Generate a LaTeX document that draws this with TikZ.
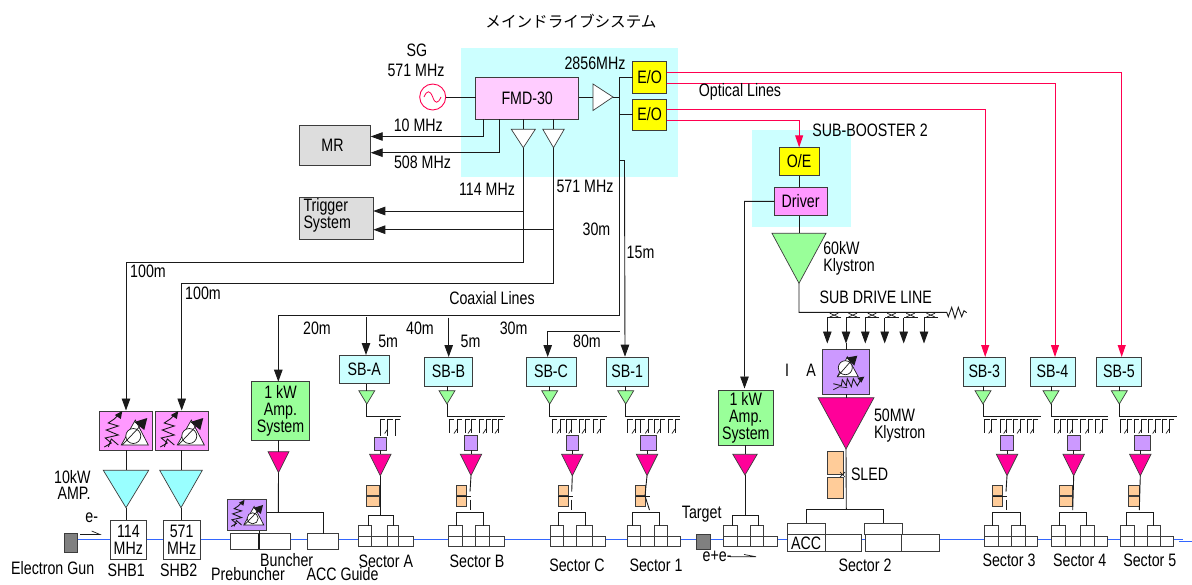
\documentclass[tikz,border=0pt]{standalone}
\usepackage{fontspec}
\setmainfont[FakeStretch=0.79]{Liberation Sans}
\newfontfamily\jpfont{Noto Sans CJK JP}
\usetikzlibrary{arrows.meta,calc}
\definecolor{ln}{HTML}{1A1A1A}
\definecolor{bgcy}{HTML}{CCFFFF}
\definecolor{fmdp}{HTML}{FFCCFF}
\definecolor{pk}{HTML}{FF99FF}
\definecolor{pu}{HTML}{CC99FF}
\definecolor{gn}{HTML}{99FF99}
\definecolor{cy}{HTML}{99FFFF}
\definecolor{mg}{HTML}{FF0099}
\definecolor{og}{HTML}{FFCC99}
\definecolor{gy}{HTML}{DDDDDD}
\definecolor{ye}{HTML}{FFFF00}
\definecolor{redline}{HTML}{FF0050}
\definecolor{beamblue}{HTML}{3366FF}
\definecolor{ggun}{HTML}{808080}
\tikzset{
  lnn/.style={draw=ln,line width=.9pt},
  thn/.style={draw=ln,line width=.7pt},
  arw/.style={lnn,-{Triangle[length=12pt,width=8.5pt]}},
  redl/.style={draw=redline,line width=1pt},
  redarw/.style={redl,-{Triangle[length=12pt,width=8pt]}},
  bxs/.style={draw=ln!85,line width=.9pt,inner sep=0pt,outer sep=0pt,align=center,
     font=\fontsize{18}{17}\selectfont},
  sbb/.style={bxs,fill=bgcy},
  pkb/.style={bxs,fill=pk},
  pub/.style={bxs,fill=pu},
  gnb/.style={bxs,fill=gn},
  yeb/.style={bxs,fill=ye},
  gyb/.style={bxs,fill=gy},
  ogb/.style={bxs,fill=og},
  acc/.style={bxs,fill=white},
  gunb/.style={bxs,fill=ggun},
  tg/.style={fill=gn,draw=ln!85,line width=.7pt},
  tm/.style={fill=mg,draw=ln!85,line width=.7pt},
  tc/.style={fill=cy,draw=ln!85,line width=.7pt},
  tw/.style={fill=white,draw=ln!85,line width=.7pt},
  lab/.style={inner sep=0pt,outer sep=0pt,align=center,font=\fontsize{18}{16.5}\selectfont},
  labl/.style={lab,anchor=west,align=left},
}
\newcommand{\bx}[7]{%
  \pgfmathsetmacro\wa{#4-#2}\pgfmathsetmacro\ha{#5-#3}%
  \node[#6,minimum width=\wa pt,minimum height=\ha pt] (#1) at ({(#2+#4)/2},{(#3+#5)/2}) {#7};}
\newcommand{\tri}[6]{%
  \draw[#6] ({#2-#4},#3) -- ({#2+#4},#3) -- (#2,#5) -- cycle;
  \coordinate (#1-t) at (#2,#3); \coordinate (#1-b) at (#2,#5);}
\newcommand{\sector}[9]{%
  \bx{#1-a}{#2}{525.7}{#3}{536.7}{acc}{}
  \bx{#1-b}{#4}{525.7}{#5}{536.7}{acc}{}
  \bx{#1-c}{#2}{536.7}{#3}{546.3}{acc}{}
  \bx{#1-d}{#3}{536.7}{#4}{546.3}{acc}{}
  \bx{#1-e}{#4}{536.7}{#5}{546.3}{acc}{}
  \bx{#1-f}{#5}{536.7}{#6}{546.3}{acc}{}
  \coordinate (#1-l) at (#7,#9); \coordinate (#1-r) at (#8,#9);
  \draw[lnn] (#1-a.north -| #1-l) -- (#1-l) -- (#1-r) -- (#1-b.north -| #1-r);}
\newcommand{\teeth}[2][433]{%
  \foreach \t [count=\c] in {#2} {%
    \draw[thn] ({\t+5},419.6) -- (\t,419.6) -- (\t,#1);
    \ifodd\c\relax\else \draw[thn] (\t,429) -- ({\t-3},433.5);\fi}}
\newcommand{\sled}[3]{% name x1 x2
  \bx{#1-u}{#2}{485.7}{#3}{495.7}{ogb}{}
  \bx{#1-v}{#2}{496.7}{#3}{506.7}{ogb}{}}
\newcommand{\icon}[4]{% name x y scale
  \begin{scope}[shift={(#2,#3)},scale=#4]
    \draw[ln,line width=.9pt] (5,36) -- (12,32) -- (6,27) -- (19,24) -- (7,19) -- (19,15) -- (9,12) -- (15,8) -- (21,2);
    \fill[ln] (23,0) -- (21.5,8) -- (15.5,4) -- cycle;
    \draw[ln,line width=.9pt] (9,36) -- (12,28) -- (19,34);
    \draw[ln,line width=.7pt,fill=white] (22,34) -- (49,34) -- (36,9) -- cycle;
    \draw[ln,line width=.7pt,fill=white] (34,25) circle (7.5);
    \draw[ln,line width=.7pt] (23,34) -- (41,15);
    \fill[ln] (48,7) -- (45,19) -- (35,11) -- cycle;
    \coordinate (#1) at (26,19);
  \end{scope}}
\begin{document}
\begin{tikzpicture}[x=1pt,y=-1pt]
\path[fill=white,use as bounding box] (0,0) rectangle (1192,584);
% background panels
\fill[bgcy] (461,48) rectangle (678,177);
\fill[bgcy] (752,130) rectangle (851,227);
% beam
\coordinate (beamA) at (77,539); \coordinate (beamB) at (1182.7,539);
\coordinate (beamC) at (1179,541.7); \coordinate (beamD) at (1192,541.7);
\draw[beamblue,line width=1pt] (beamA) -- (beamB);
\draw[beamblue,line width=1pt] (beamC) -- (beamD);
% top boxes
\bx{fmd}{475.7}{77.7}{578.7}{119.3}{bxs,fill=fmdp}{FMD-30}
\bx{eoa}{632.7}{61.7}{666.7}{93}{yeb}{E/O}
\bx{eob}{632.7}{99}{666.7}{130}{yeb}{E/O}
\bx{mr}{299.3}{125.7}{370.7}{165}{gyb}{MR\hspace{5pt}}
\bx{trig}{299.3}{197.3}{373.3}{239.3}{gyb}{}
\node[lab,align=left,anchor=west,font=\fontsize{18}{15.5}\selectfont] (trigt) at (303.5,215.5) {Trigger\\System};
\bx{oe}{779.3}{147.3}{819}{175.7}{yeb}{O/E}
\bx{drv}{774.3}{187}{827}{215.7}{pkb}{Driver}
\node[draw=redline,line width=.9pt,circle,minimum size=26pt,inner sep=0pt,outer sep=0pt,fill=white] (sg) at (432.7,97) {};
\draw[redline,line width=.8pt] (424,97) .. controls (427,90) and (430,90) .. (432.7,97) .. controls (435,104) and (438,104) .. (441,97);
% top triangles
\coordinate (ampL) at (593,97); \coordinate (ampR) at (613,97);
\draw[tw] (593,84) -- (613,97) -- (593,110.5) -- cycle;
\tri{ta}{523.3}{129.3}{12}{147.7}{tw}
\tri{tb}{553.5}{129.3}{10.7}{147.7}{tw}
\tri{kly}{799}{233.3}{27}{283.3}{tg}
% top connectors
\draw[lnn] (sg.east) -- (fmd.west |- sg.east);
\draw[lnn] (fmd.east |- ampL) -- (ampL);
\coordinate (jMain) at (619.5,315); \coordinate (jAmp1) at (278.3,315);
\coordinate (jC) at (619.5,331); \coordinate (j160) at (619.5,160); \coordinate (jTop) at (619.5,97);
\draw[lnn] (ampR) -- (jTop);
\draw[lnn] (eoa.west) -| (jMain) -- (jAmp1);
\draw[lnn] (eob.west) -- (eob.west -| jMain);
\coordinate (f10) at (483.5,119.3); \coordinate (mr10) at (370.7,136.5);
\coordinate (f508) at (499.7,119.3); \coordinate (mr508) at (370.7,152.7);
\draw[arw] (f10) |- (mr10);
\draw[arw] (f508) |- (mr508);
\draw[lnn] (ta-t |- fmd.south) -- (ta-t);
\draw[lnn] (tb-t |- fmd.south) -- (tb-t);
\coordinate (c100a) at (126,262); \coordinate (c100b) at (181.7,283);
\coordinate (trA) at (523.3,211); \coordinate (trB) at (553.5,229.7);
\coordinate (trAe) at (373.3,211); \coordinate (trBe) at (373.3,229.7);
\draw[lnn] (ta-b) |- (c100a);
\draw[lnn] (tb-b) |- (c100b);
\draw[arw] (trA) -- (trAe);
\draw[arw] (trB) -- (trBe);
% red optical lines
\coordinate (ra) at (666.7,72); \coordinate (rb) at (666.7,83); \coordinate (rc) at (666.7,109.2); \coordinate (rdd) at (666.7,120);
\coordinate (ra2) at (1121.7,357); \coordinate (rb2) at (1055,357); \coordinate (rc2) at (985.2,357);
\draw[redarw] (ra) -| (ra2);
\draw[redarw] (rb) -| (rb2);
\draw[redarw] (rc) -| (rc2);
\draw[redarw] (rdd) -| (oe.north);
\draw[lnn] (oe.south) -- (drv.north -| oe.south);
\draw[lnn] (drv.south -| kly-t) -- (kly-t);
% sub drive line
\coordinate (sdEnd) at (946.7,312.3);
\draw[lnn] (kly-b) |- (sdEnd) -- (948.3,316.7) -- (951.7,307.3) -- (955,318.3) -- (958.3,307.3) -- (961.7,316.7) -- (964,310.7) -- (966.7,312.7);
\foreach \xx in {827.3,846,865.3,884.7,903.7,924}{%
  \draw[thn] ({\xx+2.5},313.2) -- ({\xx+11},317) ({\xx+2.5},317) -- ({\xx+11},313.2);
  \draw[thn] ({\xx+14},317.5) -- (\xx,317.5);
  \draw[arw] (\xx,317.5) -- (\xx,343.5);
}
% SHB chain
\bx{pk1}{99.3}{411}{152.3}{450.3}{pkb}{}
\bx{pk2}{155.3}{411}{208.3}{450.3}{pkb}{}
\icon{ic1}{99.3}{411}{1}
\icon{ic2}{155.3}{411}{1}
\tri{ca}{126}{470.3}{22.7}{507.7}{tc}
\tri{cb}{181}{470.3}{21.3}{507.7}{tc}
\bx{shba}{110}{520.3}{146.7}{559.7}{acc}{114\\MHz}
\bx{shbb}{163.3}{520.3}{200}{559.7}{acc}{571\\MHz}
\bx{gun}{64.3}{533.3}{77.7}{552}{gunb}{}
\coordinate (pka) at (126,410.5); \coordinate (pkb) at (181.7,410.5);
\draw[arw] (c100a) -- (pka);
\draw[arw] (c100b) -- (pkb);
\draw[lnn] (ca-t |- pk1.south) -- (ca-t);
\draw[lnn] (cb-t |- pk2.south) -- (cb-t);
\draw[lnn] (ca-b) -- (ca-b |- shba.north);
\draw[lnn] (cb-b) -- (cb-b |- shbb.north);
\coordinate (ega) at (80,534.5); \coordinate (egb) at (100,534.5); \coordinate (egc) at (91.7,531);
\draw[thn] (ega) -- (egb) -- (egc);
% 1 kW buncher amp
\bx{ampa}{251.7}{381.7}{309.3}{440}{gnb}{1 kW\\Amp.\\System}
\tri{mb}{278.5}{451.7}{10.5}{472.7}{tm}
\coordinate (ampaT) at (278.3,381.7);
\draw[arw] (jAmp1) -- (ampaT);
\draw[lnn] (mb-t |- ampa.south) -- (mb-t);
\bx{prebox}{227.5}{499.3}{266.7}{530.7}{pub}{}
\icon{ic3}{227.5}{499.8}{.74}
\bx{pre}{230}{533.7}{259}{549.3}{acc}{}
\bx{bun}{259}{533.7}{290.7}{549.3}{acc}{}
\bx{accg}{307.3}{533.7}{338.7}{549.3}{acc}{}
\coordinate (bunJ) at (278.3,512.7);
\draw[lnn] (mb-b) -- (bunJ);
\draw[lnn] (prebox.east) ++(0,-2.3) coordinate (pbE) -- (bunJ) -| (accg.north);
\draw[line width=1.2pt,ln] (pre.north east) -- (pre.south east);
\draw[lnn] (259,530.7) -- (259,533.7);
% Generic stations
\coordinate (tapA) at (366,317); \coordinate (tapAe) at (366,355);
\coordinate (tapB) at (448.7,317.5); \coordinate (tapBe) at (448.7,357);
\coordinate (tapCe) at (547.7,357); \coordinate (tap1e) at (625,356.7); \coordinate (tap1j) at (624.5,160);
\draw[arw] (tapA) -- (tapAe);
\draw[arw] (tapB) -- (tapBe);
\draw[arw] (jC) -| (tapCe);
\draw[lnn] (j160) -- (tap1j);
\draw[arw] (tap1j) -- (tap1e);
\newcommand{\station}[9]{% name sbx1 sbx2 text gcx hx2 px1 px2 mcx
  \bx{sb#1}{#2}{\sbT}{#3}{\sbB}{sbb}{#4}
  \tri{g#1}{#5}{390.7}{8}{404}{tg}
  \coordinate (h#1) at (#6,416.7);
  \draw[lnn] (g#1-t |- sb#1.south) -- (g#1-t);
  \draw[lnn] (g#1-b) |- (h#1);
  \bx{p#1}{#7}{\pT}{#8}{450.3}{pub}{}
  \tri{m#1}{#9}{454.3}{10.7}{475.7}{tm}
  \draw[lnn] (m#1-t |- p#1.south) -- (m#1-t);}
\def\sbT{355}\def\sbB{383.7}\def\pT{437.7}
\station{A}{339.3}{389.3}{SB-A}{366.8}{401.3}{374}{386.7}{380.3}
\def\sbT{357.3}\def\sbB{386}\def\pT{435.3}
\station{B}{424.7}{472.3}{SB-B}{447}{505}{464.7}{477.3}{471}
\station{C}{526}{576}{SB-C}{549.7}{606.7}{566}{578.7}{572.3}
\station{O}{606}{648.3}{SB-1}{625.7}{680}{640.7}{656}{647}
\station{T}{963.3}{1005.3}{SB-3}{983}{1041.3}{1000.7}{1013.3}{1007}
\station{F}{1030}{1075}{SB-4}{1051}{1108}{1067.3}{1080}{1073.7}
\station{V}{1096.7}{1141.3}{SB-5}{1119.3}{1177.3}{1134.3}{1150}{1140.3}
\teeth[436]{380,387.7,395.3}
\teeth{449,457,465,471,479,486,492,498}
\teeth{552,560,566,571.7,579.3,585,593.3,600}
\teeth{627.7,635,640,648.3,654,660,668.3,675}
\teeth{984.7,991.7,1000,1006.7,1013.3,1020,1027.3,1033.3}
\teeth{1054,1060.7,1067.3,1072.7,1080.7,1088.3,1095,1102.7}
\teeth{1120.7,1127.3,1134,1141.7,1148.3,1155.7,1162.3,1169}
% sleds
\sled{sa}{366}{379.3}
\sled{sb}{456.7}{466.7}
\sled{sc}{558.3}{568.3}
\sled{so}{635.7}{645.7}
\sled{st}{992.7}{1002.7}
\sled{sf}{1059.3}{1072.7}
\sled{sv}{1128.7}{1139.3}
% sectors
\sector{secA}{358}{371.7}{387.3}{398.3}{413.3}{368}{393}{515}
\sector{secB}{448.7}{462}{475.7}{489}{504.3}{456.7}{483.7}{512.3}
\sector{secC}{550}{563.3}{576.7}{592.7}{605.7}{558.3}{585}{512.3}
\sector{secO}{627.3}{640.7}{654}{667.3}{680}{632.7}{659.3}{512.3}
\sector{secT}{984.7}{998.3}{1011.7}{1025}{1037.7}{992.7}{1020}{512.3}
\sector{secF}{1051.3}{1065}{1080.7}{1094}{1107}{1059.3}{1086}{512.3}
\sector{secV}{1120.7}{1134.3}{1147.3}{1160.7}{1173.7}{1126.3}{1153.3}{512.3}
% sled feeds
\draw[lnn] (mA-b) -- (mA-b |- secA-l);
\newcommand{\gapfeed}[3]{% tri name, x, sled x1
  \draw[lnn] (#1-b) -- (#2,491.7);
  \draw[thn] (#3,495.9) -- ({#2+1},495.9);
  \draw[lnn] (#2,499.5) -- (#2,510.3);}
\gapfeed{mB}{470}{456.7}
\gapfeed{mC}{571.7}{558.3}
\gapfeed{mT}{1006}{992.7}
\draw[lnn] (mO-b) -- (645,496) -- (649.5,510);
\draw[thn] (635.7,495.9) -- (649.5,495.9);
\draw[lnn] (mF-b) -- (1072.7,510);
\draw[lnn] (mV-b) -- (1139.3,510);
% Sector 2 and middle amp
\bx{ampb}{718.3}{390}{773.3}{445}{gnb}{1 kW\\Amp.\\System}
\coordinate (ampbT) at (744.5,388.5); \coordinate (drvL) at (744.5,201.4);
\draw[arw] (drv.west) -- (drvL) -- (ampbT);
\tri{mD}{745}{454.3}{12.2}{475}{tm}
\draw[lnn] (mD-t |- ampb.south) -- (mD-t);
\sector{secD}{723.7}{737}{750.3}{763.7}{777}{732}{758.7}{515}
\draw[lnn] (mD-b) -- (mD-b |- secD-l);
\bx{tgt}{696.7}{534}{710}{549}{gunb}{}
\coordinate (epa) at (730,556.7); \coordinate (epb) at (756,556.7); \coordinate (epc) at (744,554.5);
\draw[thn] (epa) -- (epb) -- (epc);
\bx{ia}{822.3}{349.7}{869.7}{394.3}{pub}{}
\coordinate (iaT) at (846,343); \coordinate (iaTe) at (846,349.7);
\draw[lnn] (iaT) -- (iaTe);
\begin{scope}[shift={(822.3,349.7)}]
  \draw[ln,line width=.7pt,fill=white] (15,27) -- (36,27) -- (25,7) -- cycle;
  \draw[ln,line width=.7pt,fill=white] (23,18) circle (7);
  \draw[ln,line width=.7pt] (15,27) -- (29,11);
  \fill[ln] (35,6) -- (32,16) -- (24,8) -- cycle;
  \draw[ln,line width=.9pt] (11,34) -- (19,36) -- (20,30) -- (24,36) -- (25,29) -- (29,37) -- (31,29) -- (35,36) -- (39,29);
  \fill[ln] (42,27) -- (39,33) -- (35,28) -- cycle;
  \draw[ln,line width=.7pt] (11,40) -- (17,37) -- (25,38);
\end{scope}
\tri{mS}{846}{397.7}{28}{449}{tm}
\draw[lnn] (mS-t |- ia.south) -- (mS-t);
\bx{s2a}{827.7}{451.7}{843}{474.3}{ogb}{}
\bx{s2b}{827.7}{477.3}{843}{498.3}{ogb}{}
\coordinate (s2T) at (846.3,509.7);
\draw[lnn] (mS-b) -- (s2T);
\draw[thn] (840,472) -- (845,477) (840,477) -- (845,472);
\coordinate (s2L) at (806.3,509.7); \coordinate (s2R) at (883.7,509.7);
\bx{da}{787.3}{523.3}{825}{534}{acc}{}
\bx{db}{864.7}{523.3}{902.3}{534}{acc}{}
\bx{dc}{787.3}{534}{825}{551.7}{acc}{ACC}
\bx{dd}{825}{534}{861.7}{551.7}{acc}{}
\bx{de}{865}{534}{901.7}{551.7}{acc}{}
\bx{df}{901.7}{534}{939}{551.7}{acc}{}
\draw[lnn] (da.north -| s2L) -- (s2L) -- (s2R) -- (db.north -| s2R);
% labels
\node[inner sep=0pt,font=\jpfont\fontsize{15.6}{18}\selectfont] (title) at (571,21) {メインドライブシステム};
\node[lab] (lsg) at (417,50) {SG};
\node[lab] (lsg2) at (416,70) {571 MHz};
\node[lab] (l2856) at (595,63) {2856MHz};
\node[lab] (l10) at (418.3,125) {10 MHz};
\node[lab] (l508) at (422.5,162) {508 MHz};
\node[lab] (l114) at (487,189) {114 MHz};
\node[lab] (l571) at (585,186) {571 MHz};
\node[lab] (l30a) at (596.5,229) {30m};
\node[labl] (l15) at (626.7,252.7) {15m};
\node[lab] (lopt) at (740,92) {Optical Lines};
\node[labl] (lsub) at (812.3,130) {SUB-BOOSTER 2};
\node[labl,font=\fontsize{18}{16.5}\selectfont] (l60) at (823.3,258.3) {60kW\\Klystron};
\node[lab] (lsdl) at (875.8,297.7) {SUB DRIVE LINE};
\node[lab] (lcoax) at (492,298) {Coaxial Lines};
\node[lab] (l30b) at (513.6,328.3) {30m};
\node[lab] (l80) at (587,341.7) {80m};
\node[labl] (l5b) at (460.7,341.7) {5m};
\node[lab] (l40) at (420,328.3) {40m};
\node[labl] (l5a) at (378.3,341) {5m};
\node[lab] (l20) at (317,328.3) {20m};
\node[lab] (l100a) at (148,271.7) {100m};
\node[lab] (l100b) at (203,293.3) {100m};
\node[lab,align=right,anchor=east,font=\fontsize{18}{16}\selectfont] (l10k) at (90.5,485.3) {10kW\\AMP.};
\node[lab] (lem) at (91.7,518) {e-};
\node[lab] (lgun) at (52.7,567.7) {Electron Gun};
\node[lab] (lshb1) at (126.2,570) {SHB1};
\node[lab] (lshb2) at (178.7,570) {SHB2};
\node[lab] (lbun) at (286.7,560) {Buncher};
\node[lab] (lpre) at (248,574.5) {Prebuncher};
\node[lab] (lacg) at (342.5,574.5) {ACC Guide};
\node[lab] (lsa) at (385.8,561.7) {Sector A};
\node[lab] (lsb) at (477,561.7) {Sector B};
\node[lab] (lsc) at (577,565) {Sector C};
\node[lab] (lso) at (656,565) {Sector 1};
\node[lab] (ltg) at (701.7,514) {Target};
\node[labl] (lep) at (702.7,556) {e+e-};
\node[lab] (lsd) at (865,565) {Sector 2};
\node[lab] (lst) at (1009,560) {Sector 3};
\node[lab] (lsf) at (1079.7,560) {Sector 4};
\node[lab] (lsv) at (1149.8,560) {Sector 5};
\node[lab] (li) at (787,370) {I};
\node[lab] (la) at (811,370) {A};
\node[labl,font=\fontsize{18}{16.5}\selectfont] (l50) at (874,425.8) {50MW\\Klystron};
\node[labl] (lsled) at (851,474) {SLED};
\end{tikzpicture}
\end{document}
